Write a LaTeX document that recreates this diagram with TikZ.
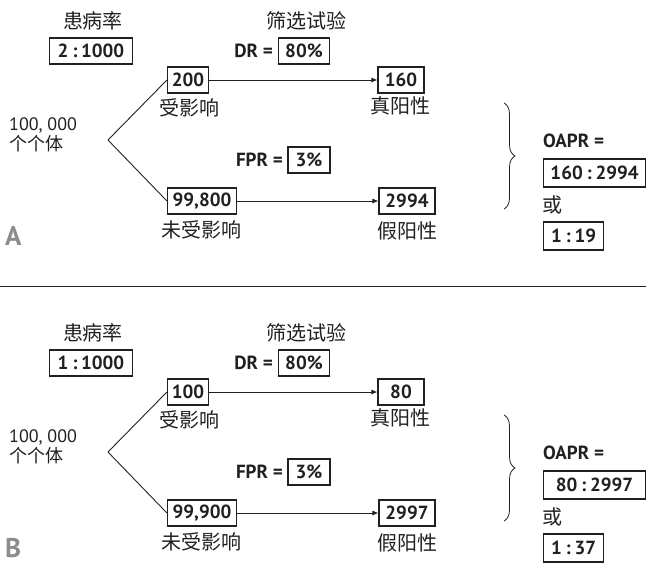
\documentclass[tikz,border=0pt]{standalone}
\usepackage{fontspec}
\setmainfont{PT Sans}
\newfontfamily\cjk{Noto Sans CJK SC}
\usetikzlibrary{arrows.meta,decorations.pathreplacing}
\definecolor{ink}{HTML}{231F20}
\definecolor{lettergray}{HTML}{8C8C8C}
\newcommand\rcolon{\hspace{0.2em}:\hspace{0.2em}}
\tikzset{
  every node/.style={text=ink, inner sep=0pt},
  num/.style={font=\fontsize{19}{21}\selectfont\bfseries},
  numbox/.style={num, draw=ink, line width=1.1pt, minimum height=26pt, align=center},
  zh/.style={font=\fontsize{20}{21}\selectfont\cjk},
  poptext/.style={font=\fontsize{18}{19.5}\selectfont, align=left},
  conn/.style={draw=ink, line width=0.9pt},
  arr/.style={conn, -{Latex[length=6pt,width=5pt]}},
  panelletter/.style={font=\fontsize{27}{27}\selectfont\bfseries, text=lettergray, text height=19pt, text depth=0pt}
}
\newcommand\mypanel[9]{%
\begin{scope}[shift={(0,#2)}, name prefix=#1-]
  \node[zh] (prevlab) at (93,21) {患病率};
  \node[numbox, minimum width=83pt] (prev) at (91,51) {#3};
  \node[zh] (testlab) at (306,21) {筛选试验};
  \node[num, anchor=east] (drlab) at (273,51) {DR =};
  \node[numbox, minimum width=51pt] (dr) at (304,51) {80\%};
  \node[poptext, anchor=west] (pop) at (9,135) {100, 000\\{\cjk 个个体}};
  \coordinate (fork) at (108,140);
  \node[numbox, minimum width=41pt] (aff) at (188,80) {#4};
  \node[zh] (afflab) at (189,108) {受影响};
  \node[num, anchor=east] (fprlab) at (283,160) {FPR =};
  \node[numbox, minimum width=42pt] (fpr) at (309,160) {3\%};
  \node[numbox, minimum width=69pt] (unaff) at (202,201) {#5};
  \node[zh] (unafflab) at (201,230) {未受影响};
  \node[numbox, minimum width=46pt] (tp) at (401,80) {#6};
  \node[zh] (tplab) at (400,106) {真阳性};
  \node[numbox, minimum width=56pt] (fp) at (407,201) {#7};
  \node[zh] (fplab) at (407,231) {假阳性};
  \coordinate (btop) at (504,103);
  \coordinate (bbot) at (504,209);
  \node[num, anchor=west] (oapr) at (543,141) {OAPR =};
  \node[numbox, minimum width=102pt, minimum height=28pt, anchor=west] (ratio) at (543,173) {#8};
  \node[zh, anchor=west] (or) at (542,205) {或};
  \node[numbox, minimum width=60pt, minimum height=28pt, anchor=west] (simp) at (543,236) {#9};
  \node[panelletter, anchor=base west] (lab) at (5,245) {#1};
  \draw[conn] (aff.west) -- (fork) -- (unaff.west);
  \draw[arr] (aff) -- (tp);
  \draw[arr] (unaff) -- (fp);
  \draw[conn, line width=0.8pt, decorate, decoration={brace, amplitude=11pt}] (btop) -- (bbot);
\end{scope}}
\begin{document}
\begin{tikzpicture}[x=1pt, y=-1pt]
  \useasboundingbox (0,0) rectangle (646,563);
  \mypanel{A}{0}{2\rcolon1000}{200}{99,800}{160}{2994}{160\rcolon2994}{1\rcolon19}
  \coordinate (sepL) at (0,286);
  \coordinate (sepR) at (646,286);
  \draw[conn] (sepL) -- (sepR);
  \mypanel{B}{312}{1\rcolon1000}{100}{99,900}{80}{2997}{80\rcolon2997}{1\rcolon37}
\end{tikzpicture}
\end{document}
